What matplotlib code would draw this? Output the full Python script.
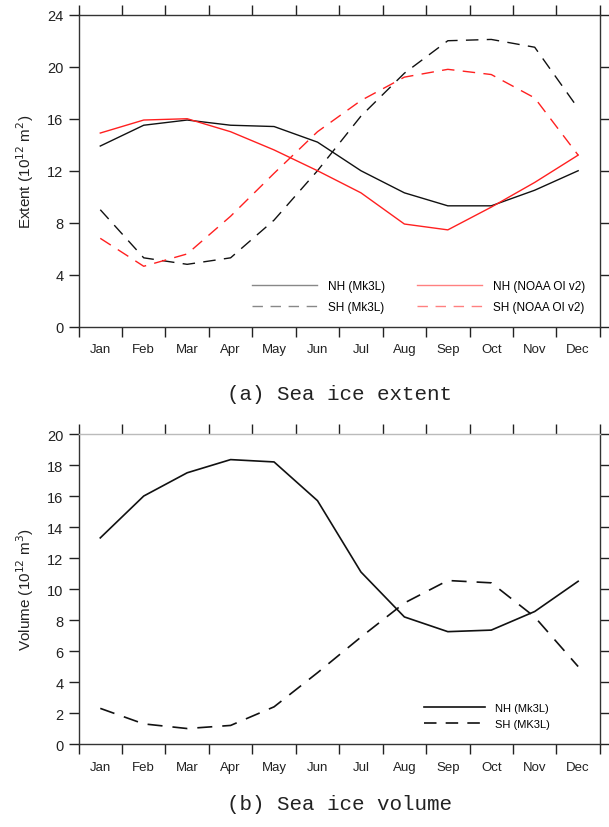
import numpy as np
import matplotlib
matplotlib.use("Agg")
import matplotlib.pyplot as plt
from matplotlib.lines import Line2D

months = ["Jan", "Feb", "Mar", "Apr", "May", "Jun",
          "Jul", "Aug", "Sep", "Oct", "Nov", "Dec"]

# sea ice extent, 10^12 m^2
ext_nh_mk3l = [13.9, 15.5, 15.9, 15.5, 15.4, 14.2, 12.0, 10.3, 9.3, 9.3, 10.5, 12.0]
ext_sh_mk3l = [9.0, 5.3, 4.8, 5.3, 8.2, 12.0, 16.2, 19.5, 22.0, 22.1, 21.5, 16.8]
ext_nh_noaa = [14.9, 15.9, 16.0, 15.0, 13.6, 12.0, 10.3, 7.9, 7.45, 9.2, 11.1, 13.2]
ext_sh_noaa = [6.8, 4.65, 5.6, 8.5, 11.8, 15.0, 17.4, 19.2, 19.8, 19.4, 17.6, 13.2]

# sea ice volume, 10^12 m^3
vol_nh_mk3l = [13.3, 16.0, 17.5, 18.35, 18.2, 15.7, 11.1, 8.2, 7.25, 7.35, 8.55, 10.5]
vol_sh_mk3l = [2.3, 1.3, 1.0, 1.2, 2.4, 4.6, 6.9, 9.1, 10.55, 10.4, 8.2, 5.0]

plt.rcParams['font.family'] = ['Liberation Sans', 'DejaVu Sans']

x = np.arange(12) + 0.5
dash = (0, (9, 6))
leg_dash = (0, (7.5, 5.5))
title_font = ['Liberation Mono', 'DejaVu Sans Mono']


def style_axes(ax, ymax, ystep):
    ax.set_xlim(0, 12)
    ax.set_ylim(0, ymax)
    ax.set_xticks(np.arange(13))
    ax.set_xticklabels([])
    ax.set_xticks(x, minor=True)
    ax.set_xticklabels(months, minor=True)
    ax.set_yticks(np.arange(0, ymax + 1, ystep))
    ax.tick_params(axis='both', which='major', direction='out', length=7,
                   width=1.0, top=True, right=True, labelsize=10.5,
                   colors='#222222', pad=4)
    ax.tick_params(axis='x', which='minor', length=0, labelsize=9.5,
                   pad=12, colors='#222222')
    for s in ax.spines.values():
        s.set_linewidth(1.0)
        s.set_color('#333333')


fig = plt.figure(figsize=(6.09, 8.28), dpi=100)

# (a) extent
ax1 = fig.add_axes([0.129, 0.6042, 0.856, 0.3768])
ax1.plot(x, ext_nh_mk3l, color='#111111', lw=1.0)
ax1.plot(x, ext_sh_mk3l, color='#111111', lw=1.0, linestyle=dash)
ax1.plot(x, ext_nh_noaa, color='#ff2020', lw=1.0)
ax1.plot(x, ext_sh_noaa, color='#ff2020', lw=1.0, linestyle=dash)
style_axes(ax1, 24, 4)
ax1.set_ylabel('Extent (10$^{12}$ m$^2$)', fontsize=11, color='#222222', labelpad=8)

handles = [Line2D([], [], color='#888888', lw=1.0),
           Line2D([], [], color='#888888', lw=1.0, linestyle=leg_dash),
           Line2D([], [], color='#ff8080', lw=1.0),
           Line2D([], [], color='#ff8080', lw=1.0, linestyle=leg_dash)]
labels = ['NH (Mk3L)', 'SH (Mk3L)', 'NH (NOAA OI v2)', 'SH (NOAA OI v2)']
ax1.legend(handles, labels, ncol=2, loc='lower right', frameon=False,
           fontsize=8.5, handlelength=5.5, handletextpad=0.9,
           columnspacing=2.75, labelspacing=0.7, borderpad=0,
           borderaxespad=0, bbox_to_anchor=(0.972, 0.045))

fig.text(0.557, 0.523, '(a) Sea ice extent', ha='center', va='center',
         fontsize=15, family=title_font, color='#222222')

# (b) volume
ax2 = fig.add_axes([0.129, 0.1002, 0.856, 0.3744])
ax2.plot(x, vol_nh_mk3l, color='#111111', lw=1.2)
ax2.plot(x, vol_sh_mk3l, color='#111111', lw=1.2, linestyle=dash)
style_axes(ax2, 20, 2)
ax2.spines['top'].set_color('#bbbbbb')
ax2.set_ylabel('Volume (10$^{12}$ m$^3$)', fontsize=11, color='#222222', labelpad=8)
vol_handles = [Line2D([], [], color='#111111', lw=1.2),
               Line2D([], [], color='#111111', lw=1.2, linestyle=leg_dash)]
ax2.legend(vol_handles, ['NH (Mk3L)', 'SH (MK3L)'], loc='lower right',
           frameon=False, fontsize=8, handlelength=5.5, handletextpad=0.9,
           labelspacing=0.5, borderpad=0, borderaxespad=0,
           bbox_to_anchor=(0.905, 0.05))

fig.text(0.557, 0.028, '(b) Sea ice volume', ha='center', va='center',
         fontsize=15, family=title_font, color='#222222')

fig.savefig('out.png', dpi=100)
